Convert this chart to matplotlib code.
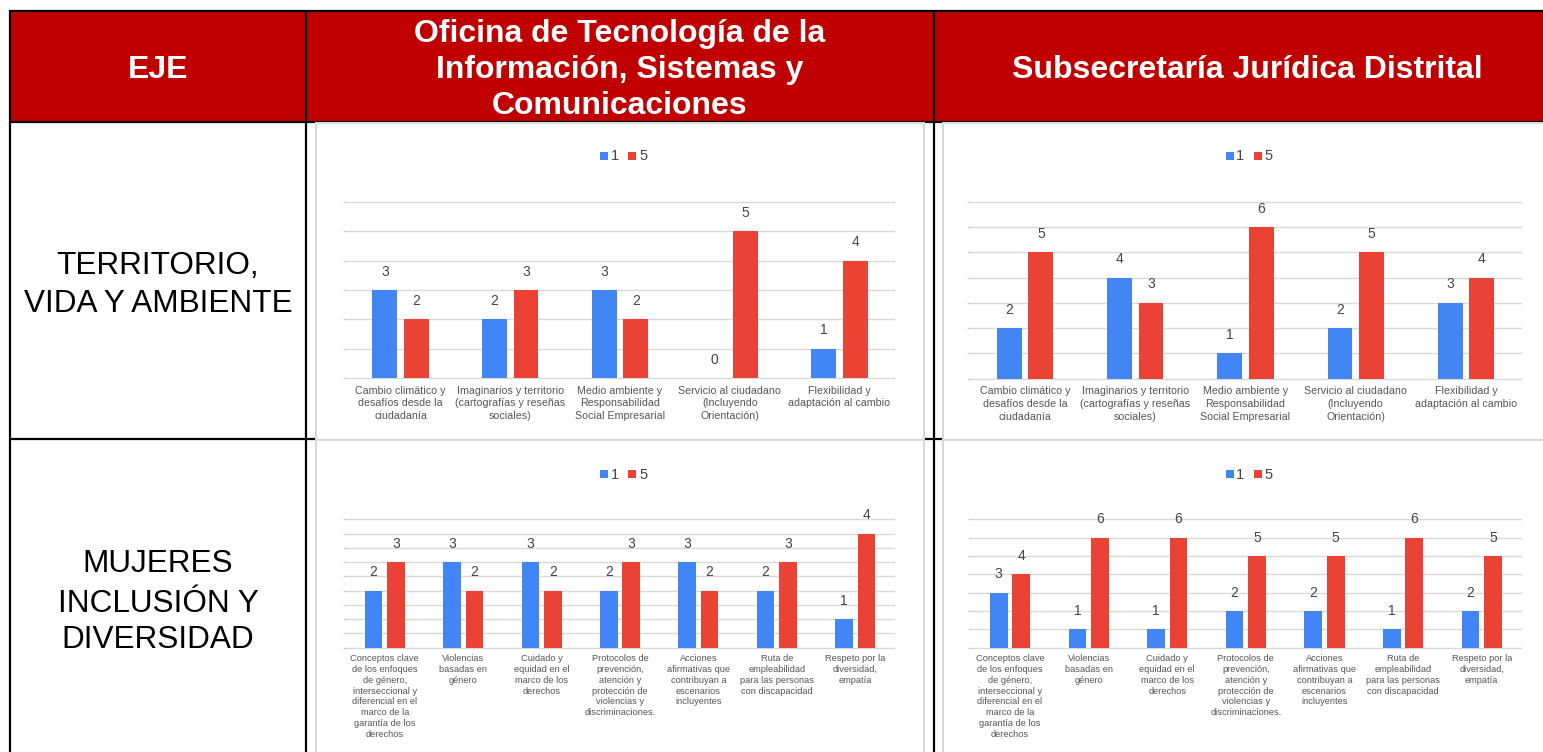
import matplotlib
matplotlib.use('Agg')
import matplotlib.pyplot as plt
import numpy as np
from matplotlib.patches import Rectangle

plt.rcParams['font.family'] = ['Liberation Sans', 'DejaVu Sans']

W, H = 1543, 752
DPI = 100

# ---------------- data ----------------
header_eje = "EJE"
header_col1 = ["Oficina de Tecnología de la", "Información, Sistemas y", "Comunicaciones"]
header_col2 = "Subsecretaría Jurídica Distrital"
row_label_1 = ["TERRITORIO,", "VIDA Y AMBIENTE"]
row_label_2 = ["MUJERES", "INCLUSIÓN Y", "DIVERSIDAD"]
series_names = ["1", "5"]

cats_territorio = [
    "Cambio climático y\ndesafíos desde la\nciudadanía",
    "Imaginarios y territorio\n(cartografías y reseñas\nsociales)",
    "Medio ambiente y\nResponsabilidad\nSocial Empresarial",
    "Servicio al ciudadano\n(Incluyendo\nOrientación)",
    "Flexibilidad y\nadaptación al cambio",
]
cats_mujeres = [
    "Conceptos clave\nde los enfoques\nde género,\ninterseccional y\ndiferencial en el\nmarco de la\ngarantía de los\nderechos",
    "Violencias\nbasadas en\ngénero",
    "Cuidado y\nequidad en el\nmarco de los\nderechos",
    "Protocolos de\nprevención,\natención y\nprotección de\nviolencias y\ndiscriminaciones.",
    "Acciones\nafirmativas que\ncontribuyan a\nescenarios\nincluyentes",
    "Ruta de\nempleabilidad\npara las personas\ncon discapacidad",
    "Respeto por la\ndiversidad,\nempatía",
]

oficina_territorio_1 = [3, 2, 3, 0, 1]
oficina_territorio_5 = [2, 3, 2, 5, 4]
subsec_territorio_1 = [2, 4, 1, 2, 3]
subsec_territorio_5 = [5, 3, 6, 5, 4]
oficina_mujeres_1 = [2, 3, 3, 2, 3, 2, 1]
oficina_mujeres_5 = [3, 2, 2, 3, 2, 3, 4]
subsec_mujeres_1 = [3, 1, 1, 2, 2, 1, 2]
subsec_mujeres_5 = [4, 6, 6, 5, 5, 6, 5]

# ---------------- style ----------------
BLUE = '#4285F4'
RED = '#EA4335'
HEADER_RED = '#C00000'
GRID = '#d9d9d9'
PANEL_EDGE = '#d9d9d9'
LABEL_C = '#444444'
CAT_C = '#555555'

fig = plt.figure(figsize=(W / DPI, H / DPI), dpi=DPI)
bg = fig.add_axes([0, 0, 1, 1])
bg.set_xlim(0, W)
bg.set_ylim(H, 0)
bg.axis('off')

# header fill
bg.add_patch(Rectangle((10, 10), W - 5, 112, fc=HEADER_RED, ec='none', zorder=1))

# table lines
lw_t = 1.6
def hline(y, x0, x1):
    bg.plot([x0, x1], [y, y], color='black', lw=lw_t, solid_capstyle='butt', zorder=2)
def vline(x, y0, y1):
    bg.plot([x, x], [y0, y1], color='black', lw=lw_t, solid_capstyle='butt', zorder=2)

hline(10.5, 9, W + 5)
hline(122, 9, W + 5)
hline(439, 9, W + 5)
vline(10, 9.5, H + 5)
vline(306, 9.5, H + 5)
vline(933.5, 9.5, H + 5)

# chart panels
for (px0, py0, px1, py1) in [(316, 123, 924, 439.5), (943, 123, 1560, 439.5),
                             (316, 439.5, 924, 770), (943, 439.5, 1560, 770)]:
    bg.add_patch(Rectangle((px0, py0), px1 - px0, py1 - py0, fc='white',
                           ec=PANEL_EDGE, lw=1.5, zorder=3))

# header texts
hfs = 23
bg.text(158, 78, header_eje, ha='center', va='baseline', color='white',
        fontsize=hfs, fontweight='bold', zorder=4)
for line, yb in zip(header_col1, [42, 78, 114]):
    bg.text(619.5, yb, line, ha='center', va='baseline', color='white',
            fontsize=hfs, fontweight='bold', zorder=4)
bg.text(1247, 78, header_col2, ha='center', va='baseline', color='white',
        fontsize=hfs, fontweight='bold', zorder=4)

# row labels
rfs = 22.7
for line, yb in zip(row_label_1, [274.5, 311.5]):
    bg.text(158, yb, line, ha='center', va='baseline', color='black', fontsize=rfs, zorder=4)
for line, yb in zip(row_label_2, [572.5, 611.5, 648.5]):
    bg.text(158, yb, line, ha='center', va='baseline', color='black', fontsize=rfs, zorder=4)


def px_axes(x0, y0, x1, y1):
    return fig.add_axes([x0 / W, 1 - y1 / H, (x1 - x0) / W, (y1 - y0) / H])


def legend(cx, ytop, ybase):
    sq = 8
    bg.add_patch(Rectangle((cx - 24, ytop), sq, sq, fc=BLUE, ec='none', zorder=5))
    bg.text(cx - 13.5, ybase, series_names[0], ha='left', va='baseline',
            fontsize=10.5, color=LABEL_C, zorder=5)
    bg.add_patch(Rectangle((cx + 4, ytop), sq, sq, fc=RED, ec='none', zorder=5))
    bg.text(cx + 15, ybase, series_names[1], ha='left', va='baseline',
            fontsize=10.5, color=LABEL_C, zorder=5)


def chart(rect, cats, v1, v5, ymax, ystep, cat_fs, cat_pad, cat_ls):
    ax = px_axes(*rect)
    n = len(cats)
    x = np.arange(n)
    bw = 0.225
    off = 0.143
    ax.bar(x - off, v1, bw, color=BLUE, zorder=3)
    ax.bar(x + off, v5, bw, color=RED, zorder=3)
    ax.set_xlim(-0.5, n - 0.5)
    ax.set_ylim(0, ymax)
    ticks = np.arange(0, ymax + 1e-6, ystep)
    for t in ticks:
        ax.axhline(t, color=GRID, lw=1.0, zorder=1, clip_on=False)
    ax.set_yticks(ticks)
    ax.set_yticklabels([])
    ax.tick_params(axis='y', length=2.5, color='#c8c8c8', width=0.8)
    for s in ax.spines.values():
        s.set_visible(False)
    ax.set_xticks(x)
    ax.set_xticklabels(cats, fontsize=cat_fs, color=CAT_C, linespacing=cat_ls)
    ax.tick_params(axis='x', length=0, pad=cat_pad)
    ax.patch.set_alpha(0)
    for xi, v in zip(x - off, v1):
        ax.annotate(str(v), (xi, v), xytext=(0, 13.3), textcoords='offset points',
                    ha='center', va='center', fontsize=10, color=LABEL_C,
                    annotation_clip=False)
    for xi, v in zip(x + off, v5):
        ax.annotate(str(v), (xi, v), xytext=(0, 13.3), textcoords='offset points',
                    ha='center', va='center', fontsize=10, color=LABEL_C,
                    annotation_clip=False)
    return ax


chart((345.6, 202, 894.4, 378), cats_territorio, oficina_territorio_1,
      oficina_territorio_5, 6, 1, 7.7, 5.6, 1.33)
chart((970, 201.7, 1521, 378.7), cats_territorio, subsec_territorio_1,
      subsec_territorio_5, 7, 1, 7.7, 5.6, 1.33)
chart((345.6, 519.3, 894.4, 647.7), cats_mujeres, oficina_mujeres_1,
      oficina_mujeres_5, 4.5, 0.5, 6.7, 4.8, 1.25)
chart((970.7, 519.3, 1521, 647.7), cats_mujeres, subsec_mujeres_1,
      subsec_mujeres_5, 7, 1, 6.7, 4.8, 1.25)

legend(624, 152, 160.5)
legend(1249.5, 152, 160.5)
legend(624, 470, 479.3)
legend(1249.5, 470, 479.3)

fig.savefig('out.png', dpi=DPI)
